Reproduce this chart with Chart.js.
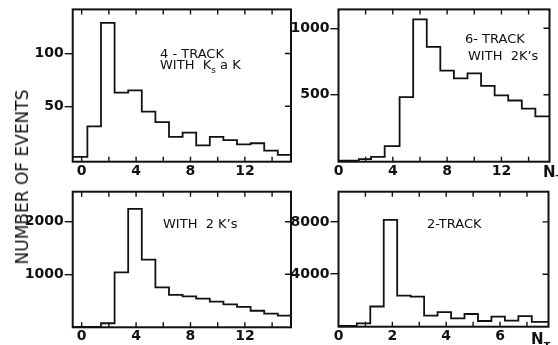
<!DOCTYPE html>
<html>
<head>
<meta charset="utf-8">
<script src="https://cdn.jsdelivr.net/npm/chart.js@4/dist/chart.umd.min.js"></script>
<style>
  html, body { margin: 0; padding: 0; background: #fff; }
  #page { position: relative; width: 558px; height: 345px; overflow: hidden; background: #fff; }
  canvas { position: absolute; left: 0; top: 0; }
  .lbl { position: absolute; font-family: "DejaVu Sans", sans-serif; font-size: 13px; line-height: 1; color: #111; white-space: nowrap; }
  .nt { position: absolute; font-family: "DejaVu Sans", sans-serif; font-size: 15px; font-weight: bold; line-height: 1; color: #111; white-space: nowrap; }
  .nt sub { font-size: 11px; vertical-align: -4px; }
  .ytitle { position: absolute; left: 22px; top: 177px; transform: translate(-50%, -50%) rotate(-90deg);
            font-family: "DejaVu Sans", sans-serif; font-size: 17px; color: #111; white-space: nowrap; }
</style>
</head>
<body>
<div id="page">
  <canvas id="c1" width="558" height="345"></canvas>
  <canvas id="c2" width="558" height="345"></canvas>
  <canvas id="c3" width="558" height="345"></canvas>
  <canvas id="c4" width="558" height="345"></canvas>
  <div class="ytitle">NUMBER OF EVENTS</div>
  <div class="lbl" style="left:160px;top:46.5px">4 - TRACK</div>
  <div class="lbl" style="left:160px;top:57.8px">WITH&nbsp; K<sub style="font-size:9px">s</sub> a K</div>
  <div class="lbl" style="left:465px;top:31.8px">6- TRACK</div>
  <div class="lbl" style="left:468px;top:48.5px">WITH&nbsp; 2K’s</div>
  <div class="lbl" style="left:163px;top:216.8px">WITH&nbsp; 2 K’s</div>
  <div class="lbl" style="left:427px;top:216.8px">2-TRACK</div>
  <div class="nt" style="left:543px;top:164.5px">N<sub>τ</sub></div>
  <div class="nt" style="left:531px;top:332.3px">N<sub>τ</sub></div>
</div>
<script>
// ---------- data ----------
// Panel 1: 4-track with Ks & K
const p1Edges  = [-0.66, 0.42, 1.42, 2.42, 3.42, 4.42, 5.42, 6.42, 7.42, 8.42, 9.42, 10.42, 11.42, 12.42, 13.42, 14.42, 15.39];
const p1Counts = [2, 31, 129, 63, 65, 45, 35, 21, 25, 13, 21, 18, 14, 15, 8, 4];
const p1XTicks = [0, 2, 4, 6, 8, 10, 12, 14];
const p1XLabels = [0, 4, 8, 12];
const p1YTicks = [50, 100];

// Panel 2: 6-track with 2K's
const p2Edges  = [0, 0.5, 1.5, 2.4, 3.4, 4.5, 5.5, 6.5, 7.5, 8.5, 9.5, 10.5, 11.5, 12.5, 13.5, 14.5, 15.54];
const p2Counts = [5, 5, 17, 34, 114, 482, 1067, 860, 681, 624, 661, 567, 495, 457, 396, 338];
const p2XTicks = [0, 2, 4, 6, 8, 10, 12, 14];
const p2XLabels = [0, 4, 8, 12];
const p2YTicks = [500, 1000];

// Panel 3: with 2 K's
const p3Edges  = [-0.66, 0.42, 1.42, 2.42, 3.42, 4.42, 5.42, 6.42, 7.42, 8.42, 9.42, 10.42, 11.42, 12.42, 13.42, 14.42, 15.39];
const p3Counts = [0, 0, 67, 1035, 2245, 1280, 752, 606, 580, 535, 479, 425, 378, 305, 250, 211];
const p3XTicks = [0, 2, 4, 6, 8, 10, 12, 14];
const p3XLabels = [0, 4, 8, 12];
const p3YTicks = [1000, 2000];

// Panel 4: 2-track
const p4Edges  = [0, 0.68, 1.18, 1.68, 2.18, 2.68, 3.18, 3.68, 4.18, 4.68, 5.18, 5.68, 6.18, 6.68, 7.18, 7.8];
const p4Counts = [40, 245, 1530, 8150, 2355, 2280, 826, 1100, 627, 956, 420, 749, 443, 790, 350];
const p4XTicks = [0, 1, 2, 3, 4, 5, 6, 7];
const p4XLabels = [0, 2, 4, 6];
const p4YTicks = [4000, 8000];

// ---------- drawing ----------
const INK = '#111';
const FONT = { family: 'DejaVu Sans', size: 14, weight: 'bold' };

const framePlugin = {
  id: 'frame',
  afterDraw(chart) {
    const { ctx, chartArea: a, scales: { x, y } } = chart;
    ctx.save();
    ctx.strokeStyle = INK;
    ctx.lineWidth = 2;
    ctx.strokeRect(a.left, a.top, a.right - a.left, a.bottom - a.top);
    ctx.lineWidth = 1.4;
    ctx.beginPath();
    x.ticks.forEach(t => {
      const px = x.getPixelForValue(t.value);
      if (px <= a.left + 1 || px >= a.right - 1) return;
      ctx.moveTo(px, a.bottom); ctx.lineTo(px, a.bottom - 5);
      ctx.moveTo(px, a.top); ctx.lineTo(px, a.top + 5);
    });
    y.ticks.forEach(t => {
      const py = y.getPixelForValue(t.value);
      ctx.moveTo(a.right, py); ctx.lineTo(a.right - 6, py);
    });
    ctx.stroke();
    ctx.restore();
  }
};

function stepPoints(edges, counts) {
  const pts = counts.map((c, i) => ({ x: edges[i], y: c }));
  pts.push({ x: edges[edges.length - 1], y: counts[counts.length - 1] });
  return pts;
}

function makePanel(id, edges, counts, xTicks, xLabels, yTicks, box, xr, yr) {
  const yW = 62, xH = 20;
  new Chart(document.getElementById(id), {
    type: 'line',
    data: {
      datasets: [{
        data: stepPoints(edges, counts),
        stepped: true,
        borderColor: INK,
        borderWidth: 1.8,
        pointRadius: 0,
        fill: false
      }]
    },
    options: {
      responsive: false,
      devicePixelRatio: 1,
      animation: false,
      events: [],
      layout: { padding: { left: box.L - yW, right: 558 - box.R, top: box.T, bottom: 345 - box.B - xH } },
      plugins: { legend: { display: false }, tooltip: { enabled: false } },
      scales: {
        x: {
          type: 'linear', min: xr[0], max: xr[1],
          afterBuildTicks: s => { s.ticks = xTicks.map(v => ({ value: v })); },
          afterFit: s => { s.height = xH; },
          grid: { display: false, drawTicks: false },
          border: { display: false },
          ticks: {
            autoSkip: false, maxRotation: 0, padding: 1, color: INK, font: FONT,
            callback: v => xLabels.includes(v) ? String(v) : ''
          }
        },
        y: {
          type: 'linear', min: yr[0], max: yr[1],
          afterBuildTicks: s => { s.ticks = yTicks.map(v => ({ value: v })); },
          afterFit: s => { s.width = yW; },
          grid: { display: true, drawOnChartArea: false, drawTicks: true, tickLength: 8, color: INK, lineWidth: 1.4 },
          border: { display: false },
          ticks: { padding: 1, color: INK, font: FONT, callback: v => String(v) }
        }
      }
    },
    plugins: [framePlugin]
  });
}

makePanel('c1', p1Edges, p1Counts, p1XTicks, p1XLabels, p1YTicks,
  { L: 72.7, R: 291, T: 7.3, B: 161.7 }, [-0.66, 15.39], [-2.5, 141.8]);
makePanel('c2', p2Edges, p2Counts, p2XTicks, p2XLabels, p2YTicks,
  { L: 338.5, R: 549.5, T: 8.3, B: 161.7 }, [0, 15.54], [-3, 1142]);
makePanel('c3', p3Edges, p3Counts, p3XTicks, p3XLabels, p3YTicks,
  { L: 72.7, R: 291, T: 191.7, B: 327.3 }, [-0.66, 15.39], [-10, 2573]);
makePanel('c4', p4Edges, p4Counts, p4XTicks, p4XLabels, p4YTicks,
  { L: 338.5, R: 548.5, T: 191.7, B: 326.7 }, [0, 7.8], [-15, 10306]);
</script>
</body>
</html>
